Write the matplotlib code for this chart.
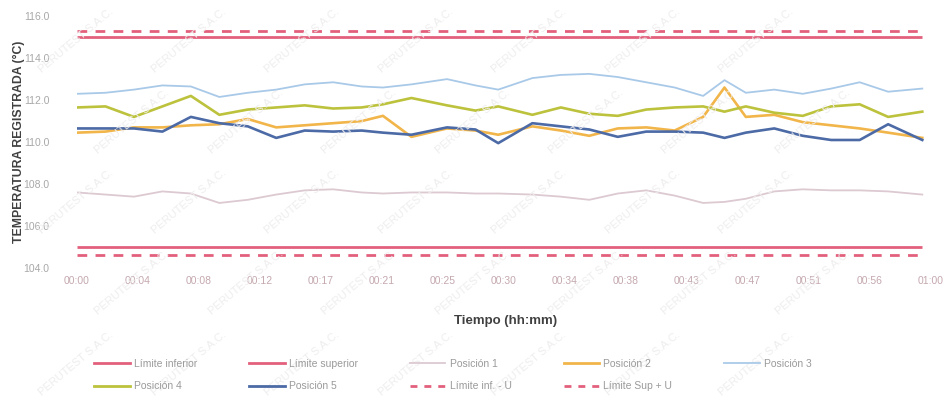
import numpy as np
import matplotlib.pyplot as plt
from matplotlib.lines import Line2D

plt.rcParams['font.family'] = ['Liberation Sans Narrow', 'Liberation Sans', 'DejaVu Sans']

# =========================
# data (temperature per position, minutes from start)
# =========================
minutes = [0, 2, 4, 6, 8, 10, 12, 14, 16, 18, 20, 21.5, 23.5, 26, 28, 29.6,
           32, 34, 36, 38, 40, 42, 44, 45.5, 47, 49, 51, 53, 55, 57, 59.4]

pos1 = [107.6, 107.5, 107.4, 107.65, 107.55, 107.1, 107.25, 107.5, 107.7, 107.75, 107.6,
        107.55, 107.6, 107.6, 107.55, 107.55, 107.5, 107.4, 107.25, 107.55, 107.7,
        107.45, 107.1, 107.15, 107.3, 107.65, 107.75, 107.7, 107.7, 107.65, 107.5]
pos2 = [110.45, 110.5, 110.7, 110.7, 110.8, 110.85, 111.1, 110.7, 110.8, 110.9, 111.0,
        111.25, 110.25, 110.65, 110.55, 110.35, 110.75, 110.55, 110.3, 110.65, 110.7,
        110.55, 111.2, 112.6, 111.2, 111.3, 110.95, 110.8, 110.65, 110.45, 110.2]
pos3 = [112.3, 112.35, 112.5, 112.7, 112.65, 112.15, 112.35, 112.5, 112.75, 112.85, 112.65,
        112.6, 112.75, 113.0, 112.7, 112.5, 113.05, 113.2, 113.25, 113.1, 112.85,
        112.6, 112.2, 112.95, 112.35, 112.5, 112.3, 112.55, 112.85, 112.4, 112.55]
pos4 = [111.65, 111.7, 111.2, 111.7, 112.2, 111.3, 111.55, 111.65, 111.75, 111.6, 111.65,
        111.8, 112.1, 111.75, 111.5, 111.7, 111.3, 111.65, 111.35, 111.25, 111.55,
        111.65, 111.7, 111.45, 111.7, 111.4, 111.25, 111.7, 111.8, 111.2, 111.45]
pos5 = [110.65, 110.65, 110.65, 110.5, 111.2, 110.9, 110.75, 110.2, 110.55, 110.5, 110.55,
        110.45, 110.35, 110.7, 110.6, 109.95, 110.9, 110.75, 110.6, 110.25, 110.5,
        110.5, 110.45, 110.2, 110.45, 110.65, 110.3, 110.1, 110.1, 110.85, 110.1]

lim_inf = 105.0
lim_sup = 115.0
lim_inf_u = 104.6
lim_sup_u = 115.3

tick_minutes = [0, 4.2857, 8.5714, 12.857, 17.143, 21.429, 25.714, 30.0,
                34.286, 38.571, 42.857, 47.143, 51.429, 55.714, 60.0]
tick_labels = ["00:00", "00:04", "00:08", "00:12", "00:17", "00:21", "00:25", "00:30",
               "00:34", "00:38", "00:43", "00:47", "00:51", "00:56", "01:00"]
y_ticks = [104.0, 106.0, 108.0, 110.0, 112.0, 114.0, 116.0]

# =========================
# styles
# =========================
c_lim = "#e2607c"
c_p1 = "#dcc9d1"
c_p2 = "#f1b54a"
c_p3 = "#a9c9e8"
c_p4 = "#bcc23c"
c_p5 = "#4c6aa6"

fig = plt.figure(figsize=(9.45, 4.04), dpi=100)
ax = fig.add_axes([0.0815, 0.3366, 0.9035, 0.6234])

# watermark
for j, yy in enumerate(np.arange(0.10, 0.93, 0.20)):
    for xx in np.arange(0.08, 0.87, 0.12):
        fig.text(xx + (0.06 if j % 2 else 0), yy, "PERUTEST S.A.C.",
                 rotation=40, fontsize=8, color="#efeded", ha="center", va="center",
                 zorder=0)

x_end = minutes[-1]
ax.plot([0, x_end], [lim_inf, lim_inf], color=c_lim, lw=2.0, solid_capstyle="butt")
ax.plot([0, x_end], [lim_sup, lim_sup], color=c_lim, lw=2.0, solid_capstyle="butt")
ax.plot([0, x_end], [lim_inf_u, lim_inf_u], color=c_lim, lw=2.0, dashes=(3.5, 3.0))
ax.plot([0, x_end], [lim_sup_u, lim_sup_u], color=c_lim, lw=2.0, dashes=(3.5, 3.0))

ax.plot(minutes, pos1, color=c_p1, lw=1.3, solid_joinstyle="round")
ax.plot(minutes, pos2, color=c_p2, lw=1.9, solid_joinstyle="round")
ax.plot(minutes, pos3, color=c_p3, lw=1.3, solid_joinstyle="round")
ax.plot(minutes, pos4, color=c_p4, lw=1.9, solid_joinstyle="round")
ax.plot(minutes, pos5, color=c_p5, lw=1.9, solid_joinstyle="round")

ax.set_xlim(0, 60)
ax.set_ylim(104, 116)
ax.set_xticks(tick_minutes)
ax.set_xticklabels(tick_labels, fontsize=7.5, color="#c4a8ae")
ax.set_yticks(y_ticks)
ax.set_yticklabels([f"{v:.1f}" for v in y_ticks], fontsize=7.5, color="#a8a8a8")
ax.tick_params(length=0, pad=6)
ax.tick_params(axis="y", pad=20)
for side in ax.spines.values():
    side.set_visible(False)
ax.patch.set_alpha(0)

ax.set_ylabel("TEMPERATURA REGISTRADA (°C)", fontsize=8.8, fontweight="bold",
              color="#404040")
ax.yaxis.set_label_coords(-0.061, 0.5)
fig.text(0.535, 0.205, "Tiempo (hh:mm)", fontsize=9.5, fontweight="bold",
         color="#404040", ha="center", va="center")

# legend, row-major order across 5 columns
h = {
    "Límite inferior": Line2D([0], [0], color=c_lim, lw=2),
    "Límite superior": Line2D([0], [0], color=c_lim, lw=2),
    "Posición 1": Line2D([0], [0], color=c_p1, lw=1.3),
    "Posición 2": Line2D([0], [0], color=c_p2, lw=2),
    "Posición 3": Line2D([0], [0], color=c_p3, lw=1.3),
    "Posición 4": Line2D([0], [0], color=c_p4, lw=2),
    "Posición 5": Line2D([0], [0], color=c_p5, lw=2),
    "Límite inf. - U": Line2D([0], [0], color=c_lim, lw=2, dashes=(2.5, 2.5)),
    "Límite Sup + U": Line2D([0], [0], color=c_lim, lw=2, dashes=(2.5, 2.5)),
}
order = ["Límite inferior", "Posición 4", "Límite superior", "Posición 5", "Posición 1",
         "Límite inf. - U", "Posición 2", "Límite Sup + U", "Posición 3"]
leg = fig.legend([h[k] for k in order], order, loc="upper left",
                 bbox_to_anchor=(0.09, 0.135), ncol=5, frameon=False, fontsize=7.5,
                 handlelength=3.4, handletextpad=0.4, columnspacing=5.0,
                 labelspacing=1.2)
for t in leg.get_texts():
    t.set_color("#9a9a9a")

fig.savefig("out.png", dpi=100)
